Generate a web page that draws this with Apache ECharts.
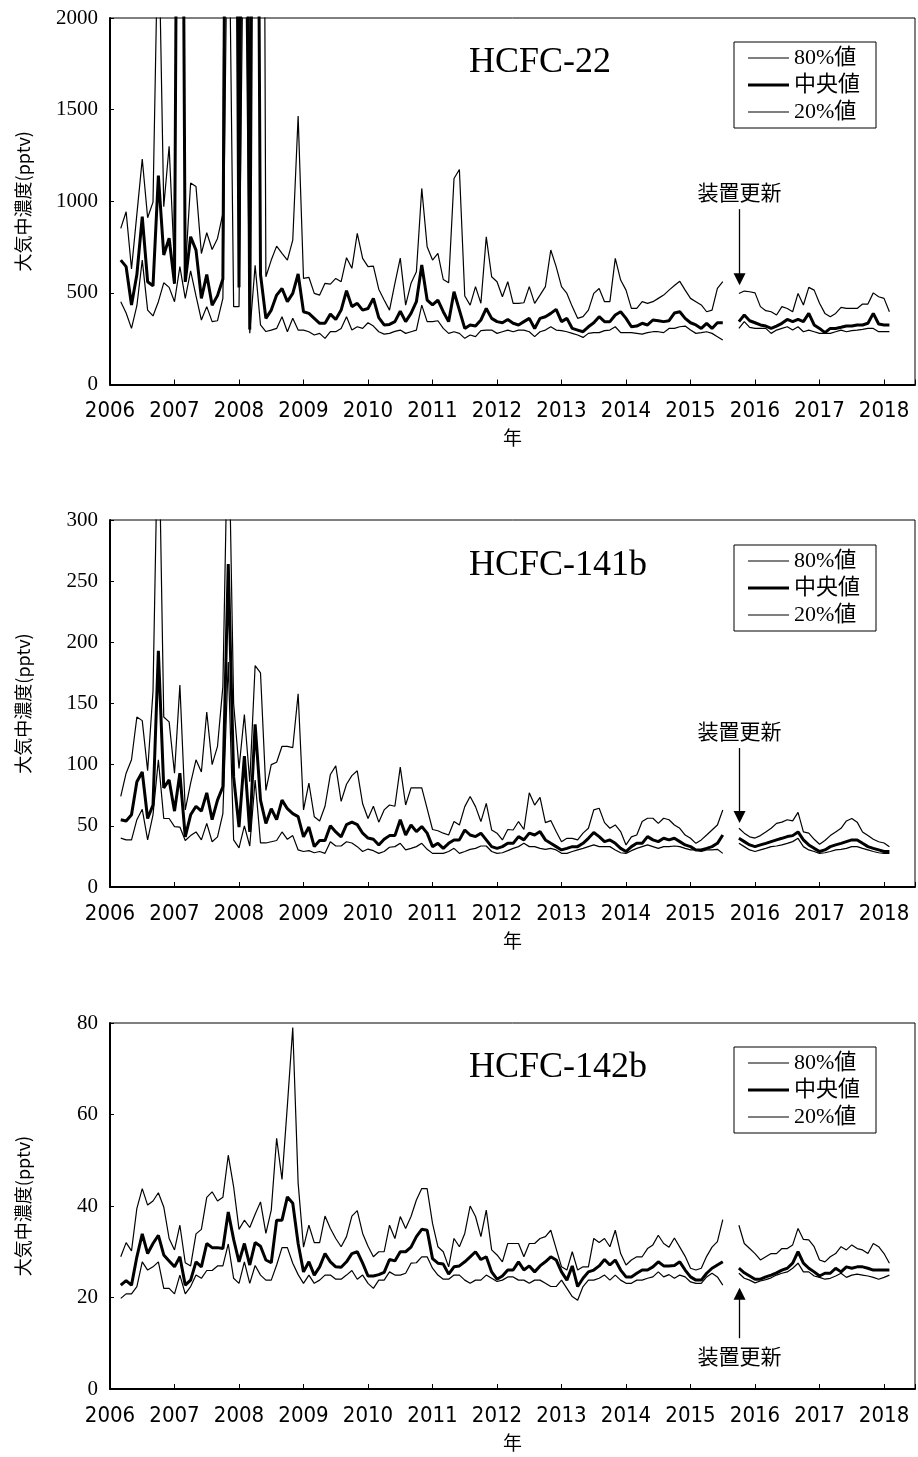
<!DOCTYPE html>
<html>
<head>
<meta charset="utf-8">
<script src="https://cdn.jsdelivr.net/npm/echarts/dist/echarts.min.js"></script>
<style>
  html, body { margin: 0; padding: 0; background: #fff; }
  #chart { width: 918px; height: 1457px; }
</style>
</head>
<body>
<div id="chart"></div>
<script>
// Monthly series, March 2006 .. February 2018 (144 months); Aug–Sep 2015 missing.
const START_YEAR = 2006;
const START_MONTH = 3;
const MONTH_COUNT = 144;

const seriesNames = ['80%値', '中央値', '20%値'];
const yearTicks = [2006, 2007, 2008, 2009, 2010, 2011, 2012, 2013, 2014, 2015, 2016, 2017, 2018];

// HCFC-22 (pptv), rows of 12 months starting at March
const hcfc22_p80 = [
  852, 943, 630, 930, 1230, 910, 995, 2600, 970, 1300, 640, 6000,
  620, 1100, 1080, 715, 828, 737, 797, 934, 8000, 8000, 1050, 8000,
  800, 8000, 8000, 588, 679, 755, 715, 679, 788, 1465, 579, 585,
  497, 488, 552, 548, 579, 561, 692, 634, 825, 688, 643, 646,
  520, 461, 406, 552, 690, 433, 552, 615, 1070, 752, 679, 715,
  573, 555, 1124, 1173, 483, 433, 534, 443, 806, 588, 561, 479,
  561, 443, 443, 446, 534, 443, 488, 534, 734, 643, 534, 497,
  425, 361, 370, 406, 497, 524, 452, 452, 688, 570, 515, 415,
  415, 452, 443, 452, 470, 488, 515, 540, 563, 515, 470, 452,
  434, 397, 406, 524, 561, null, null, 497, 510, 506, 500, 425,
  403, 397, 379, 425, 415, 397, 497, 434, 530, 515, 443, 388,
  370, 388, 421, 415, 415, 415, 439, 439, 500, 479, 470, 397
];
const hcfc22_med = [
  679, 643, 434, 600, 916, 561, 538, 1140, 707, 798, 550, 6000,
  560, 806, 733, 470, 600, 433, 485, 576, 6000, 6000, 530, 6000,
  300, 6000, 600, 361, 406, 488, 524, 452, 497, 603, 397, 388,
  361, 334, 334, 384, 355, 406, 512, 425, 443, 406, 415, 470,
  365, 325, 328, 343, 400, 343, 388, 452, 652, 461, 434, 461,
  397, 343, 506, 406, 306, 325, 319, 352, 415, 361, 343, 337,
  355, 334, 325, 343, 361, 306, 361, 370, 388, 410, 343, 361,
  306, 297, 288, 315, 337, 370, 343, 343, 379, 397, 361, 315,
  319, 334, 325, 352, 348, 343, 348, 390, 397, 361, 337, 325,
  306, 334, 306, 337, 337, null, null, 343, 379, 348, 337, 325,
  319, 306, 319, 334, 355, 343, 355, 343, 388, 325, 306, 283,
  306, 306, 312, 319, 319, 325, 325, 334, 388, 330, 325, 325
];
const hcfc22_p20 = [
  452, 390, 306, 430, 679, 406, 374, 452, 555, 530, 452, 643,
  470, 620, 483, 352, 425, 343, 348, 470, 3000, 425, 425, 3000,
  280, 650, 325, 289, 297, 306, 370, 288, 361, 297, 297, 288,
  270, 279, 252, 288, 288, 306, 370, 297, 315, 306, 337, 319,
  288, 275, 279, 290, 297, 279, 288, 297, 433, 343, 343, 348,
  306, 279, 288, 279, 252, 270, 261, 294, 297, 297, 279, 288,
  297, 288, 297, 297, 288, 261, 288, 297, 315, 297, 294, 288,
  279, 270, 257, 279, 283, 283, 294, 297, 315, 283, 283, 283,
  279, 275, 283, 288, 288, 283, 306, 306, 315, 319, 297, 279,
  283, 288, 279, 261, 243, null, null, 306, 343, 312, 306, 306,
  306, 279, 297, 306, 315, 297, 315, 288, 297, 288, 279, 279,
  279, 288, 297, 288, 294, 297, 301, 306, 306, 288, 288, 288
];

// HCFC-141b (pptv)
const hcfc141b_p80 = [
  74, 93, 104, 139, 136, 95, 160, 400, 139, 135, 93, 165,
  63, 85, 104, 94, 143, 100, 115, 164, 400, 150, 97, 141,
  86, 181, 175, 79, 100, 102, 115, 115, 114, 158, 63, 85,
  57.5, 54, 66, 92, 99, 70, 84, 91, 95, 68, 56, 66,
  53, 63, 67, 66, 98, 67, 81, 81, 81, 64, 47, 46,
  44, 42.5, 53.5, 50.7, 65.7, 74, 65.7, 53.5, 68.4, 46.6, 44, 38.5,
  47, 46.6, 53.5, 47, 77, 67, 73.3, 52.6, 54.3, 45.3, 37, 39.8,
  39.8, 38.5, 44, 48, 63, 64.4, 52.6, 48, 50.7, 45.3, 34.4, 41,
  42.5, 53.5, 56.2, 56.2, 52, 56.2, 55, 50.7, 48, 42.5, 39.8, 35.7,
  38.5, 42.5, 46.6, 50.7, 63, null, null, 48, 44, 41, 40, 42,
  45, 48, 52, 53, 55, 54, 61, 45, 44, 39, 35, 38,
  42, 45, 48, 54, 56, 53, 45, 42, 39, 37, 36, 33
];
const hcfc141b_med = [
  55, 54, 59, 86, 94, 56, 67, 193, 81, 87.5, 62, 93,
  41, 59, 66, 62, 77, 55, 71, 82, 264, 90, 49, 107,
  45, 133, 71, 52, 64, 55, 71, 64, 60, 57.5, 41, 49,
  33, 38, 38, 50, 45, 41, 51, 53, 51, 44, 40, 39,
  34.4, 39, 42, 42, 55, 42.5, 50.7, 45.3, 49.4, 44, 33, 35.7,
  31.6, 35.7, 38.5, 38.5, 46.6, 42.5, 41.2, 44, 38.5, 33, 31.6, 33,
  35.7, 35.7, 41.2, 38.5, 44, 42.5, 45.3, 38.5, 35.7, 33, 30.3, 31.6,
  33, 33, 35.7, 39.8, 44.5, 41.2, 37.1, 38.5, 35.7, 31.6, 29, 33,
  35.7, 35.7, 41.2, 38.5, 37.1, 39.8, 38.5, 39.8, 37.1, 34.4, 33, 30.3,
  30.3, 31.6, 33, 35.7, 42.5, null, null, 39.8, 37.1, 34.4, 33, 34.4,
  35.7, 37.1, 38.5, 39.8, 41.2, 42, 45, 38.5, 34.4, 31.6, 29, 30.3,
  33, 34.4, 35.7, 37.1, 38.5, 38.5, 35.7, 33, 31.6, 30.3, 29, 29
];
const hcfc141b_p20 = [
  40, 38.5, 38.5, 55, 63.5, 38.5, 59, 104, 56, 56, 49.4, 49,
  38, 42, 45, 38.5, 52, 37, 41, 60, 184, 38.5, 32, 50,
  33.5, 87.5, 36, 36, 37, 38, 45, 39, 42, 30.3, 29, 29.7,
  28, 29, 27.5, 37, 33.5, 33.5, 37, 36, 33, 29, 31, 29.7,
  27.5, 29, 32.5, 33, 35.7, 30.3, 31.6, 33, 35.7, 30.8, 27.5, 27.5,
  27.5, 29, 31.6, 27.5, 29, 30.8, 31.6, 33.5, 33.5, 29, 27.5, 28,
  29.7, 31.6, 33, 35.7, 33, 33, 31.6, 30.8, 31.6, 30.3, 27.5, 27.5,
  29, 30.3, 31.6, 33, 34.4, 33, 33, 33, 30.3, 28, 27.5, 29.7,
  31.6, 33, 34.4, 33, 31.6, 33, 33, 33.5, 33, 31.6, 30.3, 30.3,
  29, 30.3, 30.3, 30.8, 27.5, null, null, 35.7, 33, 30.3, 29, 30.3,
  31.6, 33, 33.5, 34.4, 35.7, 37.1, 39.8, 33, 30.3, 29, 27.5, 28,
  29, 30.3, 30.8, 31.6, 33, 33, 31.6, 30.3, 29, 28, 27.5, 27.5
];

// HCFC-142b (pptv)
const hcfc142b_p80 = [
  28.9, 32, 30.2, 39.5, 43.8, 40.2, 41.1, 42.9, 39.8, 32.9, 30.4, 35.8,
  27.6, 26.9, 33.9, 34.9, 41.9, 43.1, 41.1, 41.9, 51.1, 44.2, 34.9, 36.9,
  35.3, 38.2, 40.9, 34, 39.1, 54.8, 45.8, 62, 79, 45, 31, 35.8,
  32, 32, 37.8, 35.1, 32.9, 31.1, 33.3, 37.8, 39, 34, 31.2, 28.9,
  30, 30, 35.8, 32.9, 37.7, 35.1, 37.7, 41.3, 43.8, 43.8, 36.2, 31.1,
  30, 26.7, 32.9, 31.1, 34, 40, 37.7, 33.3, 39.1, 30.4, 29.3, 27.8,
  31.8, 31.8, 31.8, 28.9, 31.8, 31.8, 32.9, 33.3, 34.7, 30.7, 26.7, 26,
  30, 26, 26.7, 26.7, 32.9, 32, 32.9, 31.1, 34.7, 29.6, 27.1, 28.2,
  28.9, 28.9, 30.7, 31.5, 33.6, 31.8, 31, 33, 31, 29, 26.4, 26,
  26.4, 29, 31, 32.2, 37, null, null, 35.8, 31.8, 30.7, 29.6, 28.2,
  28.9, 29.6, 29.6, 30.7, 30.7, 31.5, 35.1, 32.7, 32.6, 31.1, 28.2, 27.8,
  28.9, 29.6, 31.1, 30.4, 31.5, 30.7, 30.4, 29.6, 31.8, 31.1, 29.6, 27.5
];
const hcfc142b_med = [
  22.7, 23.7, 22.7, 28.9, 33.9, 29.6, 31.8, 33.6, 29.3, 28, 26.7, 28.9,
  22.7, 23.8, 27.8, 26.7, 31.8, 30.9, 30.9, 30.7, 38.7, 32.7, 27.8, 31.8,
  27.1, 32, 31.2, 28.2, 27.6, 36.9, 36.9, 42, 40.6, 31.8, 25.6, 27.8,
  24.9, 26.7, 29.6, 27.8, 26.7, 26.6, 27.8, 29.6, 30, 27.5, 24.7, 24.7,
  25, 25.5, 28.3, 28, 30, 30, 31, 33.3, 34.9, 34.7, 28.5, 27.5,
  27.3, 25.1, 26.7, 26.9, 27.8, 28.9, 30, 28.3, 28.9, 25.6, 24, 24.7,
  26, 26, 27.8, 26, 26.9, 25.6, 26.9, 27.8, 28.9, 28.2, 25.6, 23.8,
  26.9, 22.4, 24.2, 25.6, 26, 26.9, 28.3, 27.1, 28.2, 26, 24.5, 24.5,
  25.3, 26, 26, 26.7, 27.8, 26.9, 26.9, 27, 27.8, 26, 24.5, 23.8,
  23.8, 25.3, 26.4, 27.1, 27.8, null, null, 26.4, 25.4, 24.7, 24, 24,
  24.5, 24.9, 25.4, 26, 26.4, 27.5, 30, 27.5, 26.4, 25.6, 24.7, 25.3,
  25.3, 26.4, 25.6, 26.7, 26.4, 26.7, 26.7, 26.4, 26, 26, 26, 26
];
const hcfc142b_p20 = [
  19.8, 20.8, 20.8, 22.4, 27.8, 26, 26.7, 27.8, 22, 22, 20.8, 24.9,
  20.8, 22.4, 24.9, 24.2, 25.9, 25.9, 26.9, 26.9, 31.7, 24.2, 23.1, 27.8,
  23.1, 27, 24.9, 23.8, 23.8, 27.1, 30.9, 30.9, 27.5, 25, 23.1, 24.9,
  23.1, 23.8, 24.9, 24.9, 24, 24, 24.9, 25.9, 24, 24.9, 23.1, 22,
  23.8, 23.8, 25.6, 24.9, 24.9, 25.3, 27.5, 27.6, 28.9, 28.9, 26.4, 24.9,
  24, 24, 24.9, 24.9, 23.8, 23.1, 23.8, 23.8, 24.9, 24.2, 23.5, 23.8,
  24.5, 24.5, 23.8, 23.8, 23.1, 23.8, 23.8, 23.1, 22.4, 22.4, 23.8, 22,
  20.2, 19.4, 22.4, 23.8, 23.8, 24.2, 24.9, 23.8, 24.9, 23.8, 23.1, 23.1,
  23.8, 23.8, 24.2, 24.5, 25.6, 24.5, 25, 24.2, 24.9, 24.5, 23.4, 23.1,
  23.1, 24.5, 25.3, 24.5, 22.7, null, null, 25.3, 24.2, 23.8, 23.2, 23.6,
  23.9, 24.3, 24.9, 25.3, 25.6, 26.4, 27.5, 25.6, 25.6, 24.7, 24.4, 24,
  24.2, 24.7, 25.3, 24.4, 24.9, 25.1, 24.9, 24.7, 24.4, 24, 24.4, 24.9
];

// Decimal-year position of each monthly sample (first day of the month)
const monthX = [];
for (let i = 0; i < MONTH_COUNT; i++) {
  monthX.push(START_YEAR + (START_MONTH - 1 + i) / 12);
}
const toPairs = (vals) => vals.map((v, i) => [monthX[i], v]);

// Instrument-replacement note: x position and the arrow's start/end values per panel
const NOTE_TEXT = '装置更新';
const NOTE_X = 2015.76;

const panels = [
  { title: 'HCFC-22',   yMax: 2000, yStep: 500, p80: hcfc22_p80,   med: hcfc22_med,   p20: hcfc22_p20,
    top: 18,   height: 366.5, titleTop: 45,   legendTop: 42,   note: [957, 575] },
  { title: 'HCFC-141b', yMax: 300,  yStep: 50,  p80: hcfc141b_p80, med: hcfc141b_med, p20: hcfc141b_p20,
    top: 520,  height: 367,   titleTop: 548,  legendTop: 545,  note: [113.6, 57.2] },
  { title: 'HCFC-142b', yMax: 80,   yStep: 20,  p80: hcfc142b_p80, med: hcfc142b_med, p20: hcfc142b_p20,
    top: 1023, height: 366,   titleTop: 1050, legendTop: 1047, note: [11.1, 20.8] }
];

const SERIF = '"Liberation Serif", "Times New Roman", serif';
const SANS_JP = '"Noto Sans CJK JP", "Noto Sans", sans-serif';
const NARROW = '"Liberation Sans Narrow", "DejaVu Sans Condensed", "Noto Sans", sans-serif';

// Legend keys: a short horizontal stroke inside a 41x14 box (thin / thick)
const THIN_KEY = 'path://M0,0M41,14M0,6.4H41V7.6H0Z';
const THICK_KEY = 'path://M0,0M41,14M0,5.5H41V8.5H0Z';
const legendData = [
  { name: seriesNames[0], icon: THIN_KEY },
  { name: seriesNames[1], icon: THICK_KEY },
  { name: seriesNames[2], icon: THIN_KEY }
];

const option = {
  animation: false,
  backgroundColor: '#fff',
  title: panels.map(p => ({
    text: p.title, left: 469, top: p.titleTop, padding: 0,
    textStyle: { fontFamily: SERIF, fontSize: 36, fontWeight: 'normal', color: '#000' }
  })),
  legend: panels.map(p => ({
    data: legendData, orient: 'vertical', left: 734, top: p.legendTop,
    itemWidth: 41, itemHeight: 14, itemGap: 5, padding: [5, 16, 5, 14],
    borderColor: '#000', borderWidth: 1, selectedMode: false,
    itemStyle: { color: '#000', borderWidth: 0 },
    textStyle: { fontFamily: '"Liberation Serif", "Noto Sans CJK JP", serif', fontSize: 22, color: '#000' }
  })),
  grid: panels.map(p => ({
    left: 110, right: 2, top: p.top, height: p.height,
    show: true, borderColor: '#000', borderWidth: 1, backgroundColor: 'transparent'
  })),
  xAxis: panels.map((p, k) => ({
    gridIndex: k, type: 'value', min: yearTicks[0], max: 2018.48, interval: 1,
    name: '年', nameLocation: 'middle', nameGap: 44,
    nameTextStyle: { fontFamily: SANS_JP, fontSize: 19, color: '#000' },
    axisLine: { show: true, lineStyle: { color: '#000', width: 2 } },
    axisTick: { show: true, inside: true, length: 5, lineStyle: { color: '#000', width: 1 } },
    axisLabel: {
      fontFamily: NARROW, fontSize: 22, color: '#000', margin: 16,
      formatter: v => (yearTicks.indexOf(Math.round(v)) >= 0 && Math.abs(v - Math.round(v)) < 1e-6) ? String(Math.round(v)) : ''
    },
    splitLine: { show: false }
  })),
  yAxis: panels.map((p, k) => ({
    gridIndex: k, type: 'value', min: 0, max: p.yMax, interval: p.yStep,
    name: '大気中濃度(pptv)', nameLocation: 'middle', nameGap: 78,
    nameTextStyle: { fontFamily: SANS_JP, fontSize: 18, color: '#000' },
    axisLine: { show: true, lineStyle: { color: '#000', width: 2 } },
    axisTick: { show: true, inside: true, length: 4, lineStyle: { color: '#000', width: 1 } },
    axisLabel: { fontFamily: SERIF, fontSize: 21, color: '#000', margin: 12, formatter: v => String(v) },
    splitLine: { show: false }
  })),
  series: []
};

panels.forEach((p, k) => {
  const base = { type: 'line', xAxisIndex: k, yAxisIndex: k, symbol: 'none', showSymbol: false, connectNulls: false, silent: true };
  option.series.push(Object.assign({}, base, {
    name: seriesNames[0], data: toPairs(p.p80),
    lineStyle: { color: '#000', width: 1.2 }, itemStyle: { color: '#000' },
    markLine: {
      silent: true, animation: false,
      symbol: ['none', 'triangle'], symbolSize: 12,
      lineStyle: { color: '#000', width: 1.3, type: 'solid' },
      label: {
        show: true, position: 'start', formatter: NOTE_TEXT, distance: 7,
        fontFamily: SANS_JP, fontSize: 21, color: '#000'
      },
      data: [[{ coord: [NOTE_X, p.note[0]] }, { coord: [NOTE_X, p.note[1]] }]]
    }
  }));
  option.series.push(Object.assign({}, base, {
    name: seriesNames[1], data: toPairs(p.med),
    lineStyle: { color: '#000', width: 3 }, itemStyle: { color: '#000' }
  }));
  option.series.push(Object.assign({}, base, {
    name: seriesNames[2], data: toPairs(p.p20),
    lineStyle: { color: '#000', width: 1.2 }, itemStyle: { color: '#000' }
  }));
});

const chart = echarts.init(document.getElementById('chart'), null, { renderer: 'canvas' });
chart.setOption(option);
</script>
</body>
</html>
